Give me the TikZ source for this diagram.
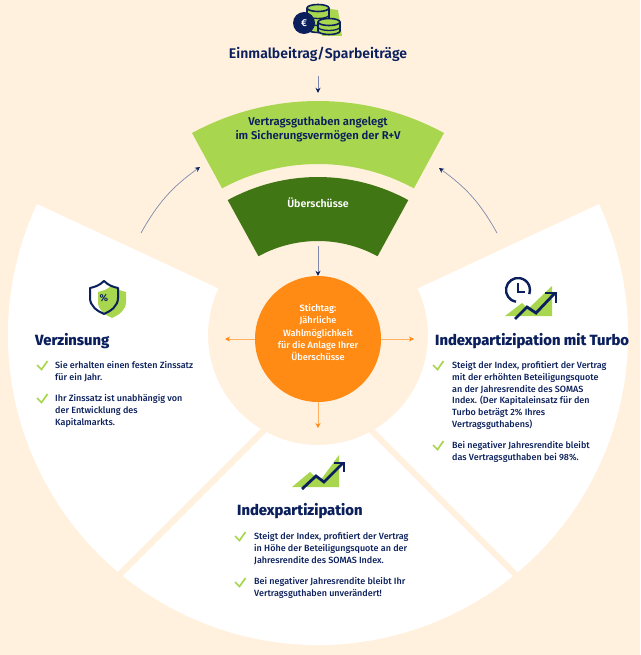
\documentclass[tikz,border=0pt]{standalone}
\usepackage{fontspec}
\setmainfont{Fira Sans Medium}[BoldFont=Fira Sans SemiBold]
\newfontfamily\heavyfont{Fira Sans ExtraBold}
\usetikzlibrary{arrows.meta}
\definecolor{cream}{HTML}{FFF1DE}
\definecolor{navy}{HTML}{0A1F5C}
\definecolor{navyline}{HTML}{7F89AD}
\definecolor{leaf}{HTML}{A8D64E}
\definecolor{moss}{HTML}{417615}
\definecolor{tangerine}{HTML}{FF8A14}
\definecolor{tangerineline}{HTML}{FFB060}
\tikzset{
  headline/.style={font=\fontsize{14.8}{16}\selectfont\heavyfont, text=navy, inner sep=0pt},
  bodytext/.style={font=\fontsize{9}{11.7}\selectfont, text=navy, align=left, anchor=north west, inner sep=0pt},
  navylink/.style={draw=navyline, line width=0.7pt, -{Stealth[length=5pt,width=5pt,navy]}},
  orangelink/.style={draw=tangerineline, line width=0.7pt, -{Stealth[length=5pt,width=5pt,tangerine]}},
  tick/.style={draw=leaf, line width=1.7pt},
  trend/.style={draw=navy, line width=2.8pt}
}
\newcommand*{\schild}{(104,-281) .. controls (99,-286) and (94,-287) .. (90,-288) -- (90,-298) .. controls (90,-306) and (97,-311) .. (104,-314) .. controls (111,-311) and (118,-306) .. (118,-298) -- (118,-288) .. controls (114,-287) and (109,-286) .. (104,-281) -- cycle}
\begin{document}
\begin{tikzpicture}[x=1pt,y=1pt]
  \useasboundingbox (0,0) rectangle (640,-655);
  \fill[cream] (0,0) rectangle (640,-655);
  % white ring with its two cuts
  \begin{scope}[shift={(318,-335)}]
    \fill[white] (155:310) arc[start angle=155,end angle=385,radius=310] -- (25:110) arc[start angle=385,end angle=155,radius=110] -- cycle;
  \end{scope}
  \draw[cream, line width=6pt] (272,-422) -- (112,-582);
  \draw[cream, line width=6pt] (363,-422) -- (523,-582);
  % green bands
  \begin{scope}[shift={(318,-365)}]
    \fill[leaf] (118.5:264) arc[start angle=118.5,end angle=61.5,radius=264] -- (61.5:201) arc[start angle=61.5,end angle=118.5,radius=201] -- cycle;
    \fill[moss] (118.7:188) arc[start angle=118.7,end angle=61.3,radius=188] -- (61.3:124) arc[start angle=61.3,end angle=118.7,radius=124] -- cycle;
  \end{scope}
  % middle column
  \node[headline, font=\fontsize{14}{16}\selectfont\bfseries, inner ysep=15pt] (einmal) at (318,-54) {Einmalbeitrag/Sparbeiträge};
  \node[font=\fontsize{11.3}{14}\selectfont\bfseries, text=navy, align=center, inner sep=0pt, minimum height=72pt] (guthaben) at (318,-129) {Vertragsguthaben angelegt\\im Sicherungsvermögen der R+V};
  \node[font=\fontsize{10.6}{12}\selectfont\bfseries, text=white, inner sep=0pt, minimum height=86pt] (ueberschuss) at (318,-203) {Überschüsse};
  \node[circle, fill=tangerine, minimum size=126pt, inner sep=0pt] (stichtag) at (318,-339) {};
  \node[text=white, inner sep=0pt, align=center, font=\fontsize{9.2}{12.2}\selectfont] (stichtext) at (318,-332.5) {\textbf{Stichtag:}\\Jährliche\\Wahlmöglichkeit\\für die Anlage Ihrer\\Überschüsse};
  % connectors
  \coordinate (zinsend) at (225,-339);
  \coordinate (turboend) at (414,-339);
  \coordinate (indexend) at (318,-428);
  \coordinate (linksstart) at (141,-233);
  \coordinate (linksend) at (200,-167);
  \coordinate (rechtsstart) at (497,-233);
  \coordinate (rechtsend) at (439,-168);
  \draw[navylink] (einmal) -- (guthaben);
  \draw[navylink] (ueberschuss) -- (stichtag);
  \draw[orangelink] (stichtag) -- (zinsend);
  \draw[orangelink] (stichtag) -- (turboend);
  \draw[orangelink] (stichtag) -- (indexend);
  \draw[navylink] (linksstart) to[bend left=12.5] (linksend);
  \draw[navylink] (rechtsstart) to[bend right=12.5] (rechtsend);
  % coins
  \fill[leaf] (322,-8) -- (338,-10) -- (342,-36) -- (322,-36) -- cycle;
  \filldraw[fill=leaf, draw=navy, line width=1.6pt] (307,-8) -- (307,-29) arc[start angle=180,end angle=360,x radius=11,y radius=3.5] -- (329,-8) arc[start angle=0,end angle=360,x radius=11,y radius=3.5];
  \foreach \ya in {-15,-22}{
    \draw[navy, line width=1.3pt] (307,\ya) arc[start angle=180,end angle=360,x radius=11,y radius=3.5];
  }
  \node[circle, fill=navy, text=white, minimum size=22pt, inner sep=0pt, font=\fontsize{10}{12}\selectfont\bfseries] (euro) at (304,-23) {€};
  \filldraw[fill=leaf, draw=navy, line width=1.6pt] (318,-22) -- (318,-31) arc[start angle=180,end angle=360,x radius=11,y radius=3.5] -- (340,-22) arc[start angle=0,end angle=360,x radius=11,y radius=3.5];
  \draw[navy, line width=1.3pt] (318,-27) arc[start angle=180,end angle=360,x radius=11,y radius=3.5];
  % shield
  \fill[leaf, shift={(8,-4)}] \schild;
  \draw[navy, line width=2pt, line join=round] \schild;
  \node[font=\fontsize{10}{12}\selectfont\bfseries, text=navy, inner sep=0pt] (prozent) at (104,-298) {\%};
  % clock and rising chart
  \fill[leaf] (505,-316) -- (522,-303) -- (528,-309) -- (552,-286) -- (552,-316) -- cycle;
  \draw[navy, line width=2.4pt] (518,-290) ++(-100:12) arc[start angle=-100,end angle=-380,radius=12];
  \draw[navy, line width=2pt] (518,-283) -- (518,-292) -- (525,-292);
  \draw[trend] (515,-319) -- (527,-307) -- (536,-313) -- (555,-293);
  \draw[trend] (545,-293) -- (556,-293) -- (556,-303);
  % rising chart
  \fill[leaf] (292,-487) -- (310,-472) -- (320,-481) -- (339,-455) -- (339,-487) -- cycle;
  \draw[trend] (302,-489) -- (316,-476) -- (324,-482) -- (343,-463);
  \draw[trend] (334,-463) -- (344,-463) -- (344,-472);
  % headlines
  \node[headline, anchor=west] (verzinsung) at (35,-341) {Verzinsung};
  \node[headline, anchor=west] (turbo) at (435,-341) {Indexpartizipation mit Turbo};
  \node[headline, anchor=west] (index) at (237,-511) {Indexpartizipation};
  % ticks
  \foreach \cx/\cy in {37/365,37/398,433/365,433/445,235/536,235/582}{
    \draw[tick] (\cx,-\cy) ++(0,0) -- ++(4.5,-4.5) -- ++(6,8.5);
  }
  % bullet texts
  \node[bodytext] (zinsa) at (55,-361.5) {Sie erhalten einen festen Zinssatz\\für ein Jahr.};
  \node[bodytext] (zinsb) at (55,-394.5) {Ihr Zinssatz ist unabhängig von\\der Entwicklung des\\Kapitalmarkts.};
  \node[bodytext] (turboa) at (452,-361.5) {Steigt der Index, profitiert der Vertrag\\mit der erhöhten Beteiligungsquote\\an der Jahresrendite des SOMAS\\Index. (Der Kapitaleinsatz für den\\Turbo beträgt 2\% Ihres\\Vertragsguthabens)};
  \node[bodytext] (turbob) at (452,-441.5) {Bei negativer Jahresrendite bleibt\\das Vertragsguthaben bei 98\%.};
  \node[bodytext] (indexa) at (254,-532.5) {Steigt der Index, profitiert der Vertrag\\in Höhe der Beteiligungsquote an der\\Jahresrendite des SOMAS Index.};
  \node[bodytext] (indexb) at (254,-577.5) {Bei negativer Jahresrendite bleibt Ihr\\Vertragsguthaben unverändert!};
\end{tikzpicture}
\end{document}
